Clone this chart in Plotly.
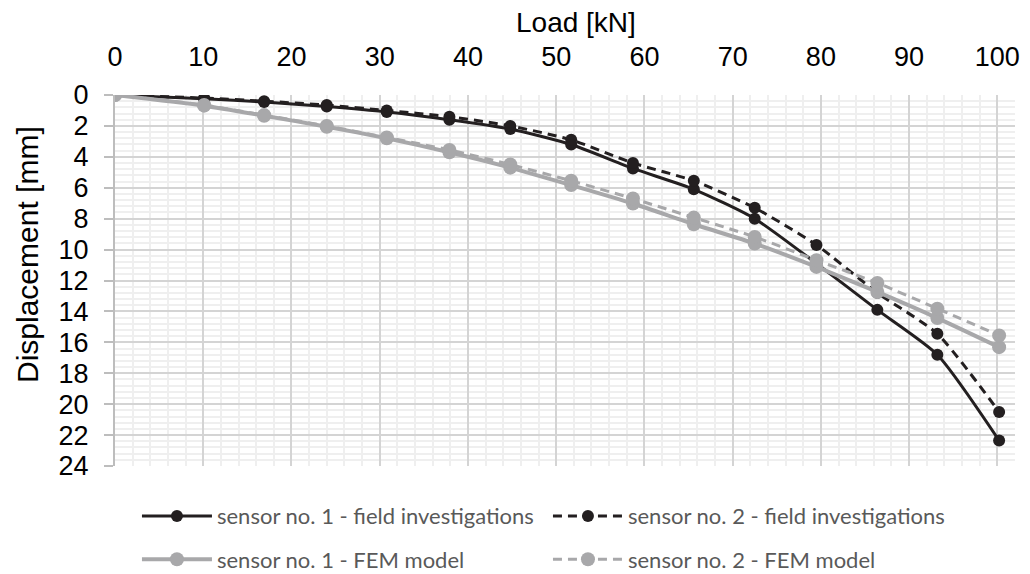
import plotly.graph_objects as go

load_kn = [0, 10.1, 16.9, 24.0, 30.8, 37.9, 44.8, 51.7, 58.7, 65.6, 72.5, 79.5, 86.4, 93.2, 100.2]
s1_field = [0, 0.25, 0.45, 0.75, 1.1, 1.6, 2.2, 3.2, 4.75, 6.1, 8.0, 10.9, 13.9, 16.8, 22.35]
s2_field = [0, 0.2, 0.4, 0.65, 1.0, 1.4, 2.0, 2.9, 4.4, 5.55, 7.3, 9.7, 12.8, 15.45, 20.5]
s1_fem = [0, 0.69, 1.34, 2.05, 2.8, 3.7, 4.7, 5.83, 7.02, 8.36, 9.61, 11.12, 12.74, 14.43, 16.31]
s2_fem = [0, 0.65, 1.3, 2.0, 2.75, 3.55, 4.5, 5.55, 6.7, 7.93, 9.18, 10.69, 12.16, 13.82, 15.55]

names = ["sensor no. 1 - field investigations", "sensor no. 2 - field investigations",
         "sensor no. 1 - FEM model", "sensor no. 2 - FEM model"]
x_ticks = [0, 10, 20, 30, 40, 50, 60, 70, 80, 90, 100]
y_ticks = [0, 2, 4, 6, 8, 10, 12, 14, 16, 18, 20, 22, 24]

BLACK = "#231f20"
GRAY = "#a8a8aa"

fig = go.Figure()
fig.add_trace(go.Scatter(x=load_kn, y=s1_field, name=names[0], mode="lines+markers",
                         line=dict(color=BLACK, width=3, shape="spline", smoothing=0.6),
                         marker=dict(size=12, color=BLACK), legend="legend"))
fig.add_trace(go.Scatter(x=load_kn, y=s2_field, name=names[1], mode="lines+markers",
                         line=dict(color=BLACK, width=3, dash="9px,6px", shape="spline", smoothing=0.6),
                         marker=dict(size=12, color=BLACK), legend="legend"))
fig.add_trace(go.Scatter(x=load_kn, y=s1_fem, name=names[2], mode="lines+markers",
                         line=dict(color=GRAY, width=4, shape="spline", smoothing=0.6),
                         marker=dict(size=14, color=GRAY), legend="legend2"))
fig.add_trace(go.Scatter(x=load_kn, y=s2_fem, name=names[3], mode="lines+markers",
                         line=dict(color=GRAY, width=3, dash="9px,6px", shape="spline", smoothing=0.6),
                         marker=dict(size=14, color=GRAY), legend="legend2"))

tick_font = dict(family="Liberation Sans, Arial, sans-serif", size=27, color="#000000")
leg_font = dict(family="Lato, sans-serif", size=22, color="#595959")

# The page body has an 8px default margin; margins compensate for it.
L, T, W, H = 107, 87, 900, 371

fig.update_layout(
    width=1030, height=574,
    margin=dict(l=L, r=1030 - L - W, t=T, b=574 - T - H, autoexpand=False),
    paper_bgcolor="white", plot_bgcolor="white",
    showlegend=True,
    xaxis=dict(side="top", range=[0, 102], tickvals=x_ticks, ticktext=[str(v) for v in x_ticks],
               showgrid=True, gridcolor="#d4d4d4", gridwidth=1.5,
               minor=dict(dtick=2, tick0=0, showgrid=True, gridcolor="#efefef", gridwidth=1.5),
               zeroline=False, showline=False, ticks="", ticklabelstandoff=23,
               tickfont=tick_font),
    yaxis=dict(range=[24, 0], tickvals=y_ticks, ticktext=[str(v) for v in y_ticks],
               showgrid=True, gridcolor="#d4d4d4", gridwidth=1.5,
               minor=dict(dtick=0.4, tick0=0, showgrid=True, gridcolor="#efefef", gridwidth=1.5),
               zeroline=False, showline=True, linecolor="#bdbdbd", linewidth=2,
               ticks="outside", ticklen=9, tickcolor="#bdbdbd", tickwidth=2,
               ticklabelstandoff=10, tickfont=tick_font),
    legend=dict(orientation="h", x=0.0244, y=-0.135, xanchor="left", yanchor="middle",
                entrywidth=326, entrywidthmode="pixels", itemwidth=70, font=leg_font,
                bgcolor="rgba(0,0,0,0)", tracegroupgap=0),
    legend2=dict(orientation="h", x=0.0244, y=-0.252, xanchor="left", yanchor="middle",
                 entrywidth=326, entrywidthmode="pixels", itemwidth=70, font=leg_font,
                 bgcolor="rgba(0,0,0,0)", tracegroupgap=0),
    annotations=[
        dict(text="Load [kN]", xref="paper", yref="paper", x=(576 - 8 - L) / W, y=1 + (T - (22 - 8)) / H,
             xanchor="center", yanchor="middle", showarrow=False,
             font=dict(family="Liberation Sans, Arial, sans-serif", size=28, color="#000000")),
        dict(text="Displacement [mm]", xref="paper", yref="paper", x=-(L - (27 - 8)) / W,
             y=(T + H - (255 - 8)) / H,
             xanchor="center", yanchor="middle", showarrow=False, textangle=-90,
             font=dict(family="Liberation Sans, Arial, sans-serif", size=30, color="#000000")),
    ],
)

fig.write_html("out.html")
